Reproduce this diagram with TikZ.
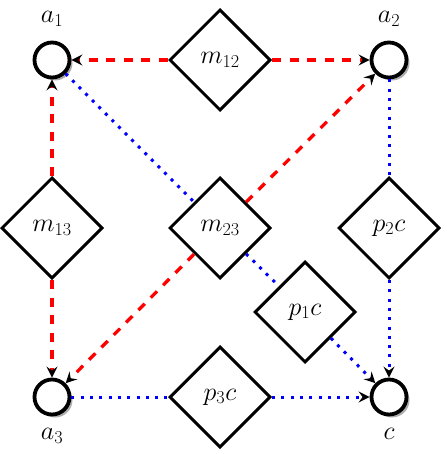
\RequirePackage{fix-cm}
\documentclass[tikz,border=0pt]{standalone}
\usetikzlibrary{shapes.geometric,arrows.meta,shadows}
\begin{document}
\begin{tikzpicture}[x=1pt,y=-1pt, font=\fontsize{26}{30}\selectfont,
  place/.style={circle, draw, line width=3.8pt, minimum size=35pt, inner sep=0pt, fill=white,
    drop shadow={shadow xshift=3pt, shadow yshift=-3pt, opacity=0.45, fill=black!70}},
  trans/.style={diamond, draw, line width=3pt, minimum width=101pt, minimum height=101pt, inner sep=0pt, aspect=1, fill=white},
  tip/.style={-{Stealth[black, length=11pt, width=11pt, inset=4pt]}},
  redline/.style={red, line width=3.3pt, dash pattern=on 9pt off 8.5pt},
  blueline/.style={blue, line width=3pt, dash pattern=on 3pt off 6.3pt},
  lbl/.style={inner sep=0pt}]
\useasboundingbox (0,0) rectangle (446,454);
\node[place] (a1) at (52,60) {};
\node[place] (a2) at (389,60) {};
\node[place] (a3) at (52,397) {};
\node[place] (c) at (389,397) {};
\node[lbl] (la1) at (52,19) {$a_1$};
\node[lbl] (la2) at (389,19) {$a_2$};
\node[lbl] (la3) at (52,436) {$a_3$};
\node[lbl] (lc) at (389,434) {$c$};
\node[trans] (m12) at (220,60) {$m_{12}$};
\node[trans] (m13) at (52,228) {$m_{13}$};
\node[trans] (m23) at (220,228) {$m_{23}$};
\node[trans] (p2c) at (389,228) {$p_2c$};
\node[trans] (p1c) at (305,312) {$p_1c$};
\node[trans] (p3c) at (220,397) {$p_3c$};
\draw[redline, tip] (m12) -- (a1);
\draw[redline, tip] (m12) -- (a2);
\draw[redline, tip] (m13) -- (a1);
\draw[redline, tip] (m13) -- (a3);
\draw[redline, tip] (m23) -- (a2);
\draw[redline, tip] (m23) -- (a3);
\draw[blueline] (a1) -- (m23);
\draw[blueline] (m23) -- (p1c);
\draw[blueline] (a2) -- (p2c);
\draw[blueline] (a3) -- (p3c);
\draw[blueline, tip] (p2c) -- (c);
\draw[blueline, tip] (p1c) -- (c);
\draw[blueline, tip] (p3c) -- (c);
\end{tikzpicture}
\end{document}
